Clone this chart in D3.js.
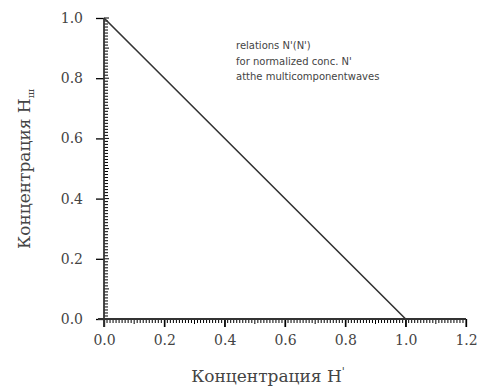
<!DOCTYPE html>
<html lang="ru">
<head>
<meta charset="UTF-8">
<title>Концентрация</title>
<script src="https://cdn.jsdelivr.net/npm/d3@7"></script>
<style>
  body { margin: 0; background: #fff; }
</style>
</head>
<body>
<div id="chart"></div>
<script>
// data
const xValues = [0.0, 1.0, 1.2];
const yValues = [1.0, 0.0, 0.0];
const xTicks = [0.0, 0.2, 0.4, 0.6, 0.8, 1.0, 1.2];
const yTicks = [0.0, 0.2, 0.4, 0.6, 0.8, 1.0];
const noteLines = ["relations N'(N')", "for normalized conc.  N'", "atthe multicomponentwaves"];

const width = 481, height = 387;
const svg = d3.select("#chart").append("svg")
    .attr("width", width)
    .attr("height", height);

const x = d3.scaleLinear().domain([0, 1.2]).range([104, 466]);
const y = d3.scaleLinear().domain([0, 1]).range([319, 18]);
const ink = "#333333";

// minor ticks x (below the axis), every 0.01
const xMinor = d3.range(0, 121);
svg.append("g")
    .attr("class", "minor-x")
    .selectAll("line")
    .data(xMinor)
    .join("line")
    .attr("x1", i => x(i / 100))
    .attr("x2", i => x(i / 100))
    .attr("y1", y(0))
    .attr("y2", i => y(0) + (i % 20 === 0 ? 8 : i % 10 === 0 ? 5 : 4))
    .attr("stroke", "black")
    .attr("stroke-width", 1);

// minor ticks y (right of the axis)
const yMinor = d3.range(0, 101);
svg.append("g")
    .attr("class", "minor-y")
    .selectAll("line")
    .data(yMinor)
    .join("line")
    .attr("y1", i => y(i / 100))
    .attr("y2", i => y(i / 100))
    .attr("x1", x(0))
    .attr("x2", i => x(0) + (i % 10 === 0 ? 5 : 4))
    .attr("stroke", "black")
    .attr("stroke-width", 1);

// axes
const xAxis = d3.axisBottom(x).tickValues(xTicks).tickFormat(d3.format(".1f")).tickSize(8).tickPadding(8);
const yAxis = d3.axisLeft(y).tickValues(yTicks).tickFormat(d3.format(".1f")).tickSize(8).tickPadding(13);

const gx = svg.append("g")
    .attr("transform", `translate(0,${y(0)})`)
    .call(xAxis);
const gy = svg.append("g")
    .attr("transform", `translate(${x(0)},0)`)
    .call(yAxis);

[gx, gy].forEach(g => {
    g.select(".domain").remove();
    g.selectAll(".tick line").attr("stroke-width", 1.3);
    g.selectAll(".tick text")
        .attr("font-family", "'DejaVu Serif', serif")
        .attr("font-size", 14)
        .attr("fill", "#444");
});

// axis lines
svg.append("line")
    .attr("x1", x(0) - 6).attr("x2", x(1.2))
    .attr("y1", y(0)).attr("y2", y(0))
    .attr("stroke", ink).attr("stroke-width", 1.8);
svg.append("line")
    .attr("x1", x(0)).attr("x2", x(0))
    .attr("y1", y(0) + 8).attr("y2", y(1))
    .attr("stroke", ink).attr("stroke-width", 1.8);

// data line
const pts = xValues.map((v, i) => [v, yValues[i]]);
svg.append("path")
    .datum(pts)
    .attr("fill", "none")
    .attr("stroke", ink)
    .attr("stroke-width", 1.6)
    .attr("d", d3.line().x(d => x(d[0])).y(d => y(d[1])));

// axis titles
const xt = svg.append("text")
    .attr("x", 268).attr("y", 382)
    .attr("text-anchor", "middle")
    .attr("font-family", "'DejaVu Serif', serif")
    .attr("font-size", 17)
    .attr("fill", "#444")
    .text("Концентрация H");
xt.append("tspan").attr("dy", -7).attr("font-size", 11).text("'");

const yt = svg.append("text")
    .attr("transform", "translate(30,169) rotate(-90)")
    .attr("text-anchor", "middle")
    .attr("font-family", "'DejaVu Serif', serif")
    .attr("font-size", 17)
    .attr("fill", "#444")
    .text("Концентрация H");
yt.append("tspan").attr("dy", 4).attr("font-size", 10).text("ш");

// annotation
svg.append("g").selectAll("text")
    .data(noteLines)
    .join("text")
    .attr("x", 236)
    .attr("y", (d, i) => 49 + i * 15.5)
    .attr("font-family", "'DejaVu Sans', sans-serif")
    .attr("font-size", 10)
    .attr("fill", "#444")
    .text(d => d);
</script>
</body>
</html>
